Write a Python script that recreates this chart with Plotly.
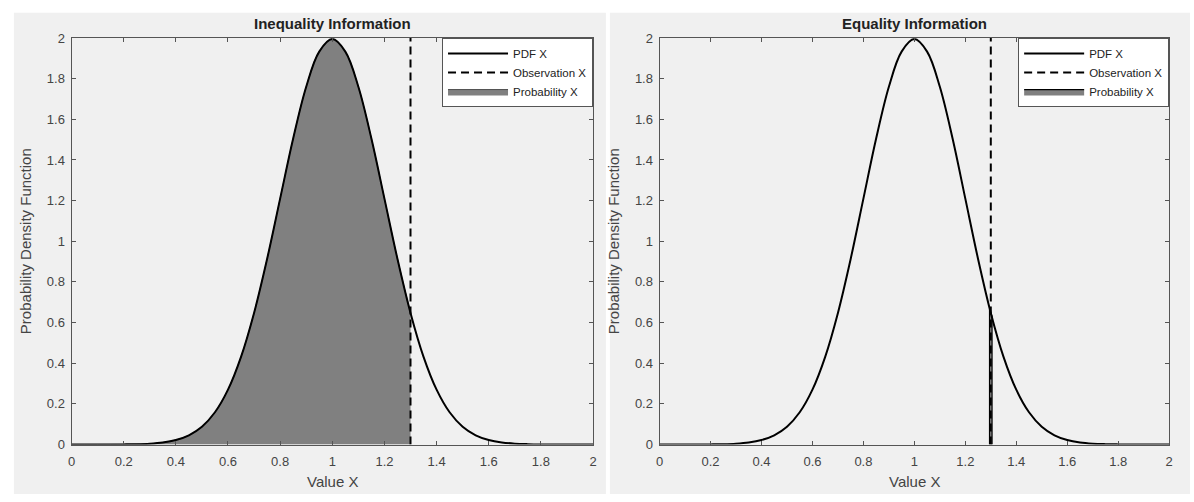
import plotly.graph_objects as go
from plotly.subplots import make_subplots

# ---- data ----
value_x = [0.00, 0.05, 0.10, 0.15, 0.20, 0.25, 0.30, 0.35, 0.40, 0.45,
           0.50, 0.55, 0.60, 0.65, 0.70, 0.75, 0.80, 0.85, 0.90, 0.95,
           1.00, 1.05, 1.10, 1.15, 1.20, 1.25, 1.30, 1.35, 1.40, 1.45,
           1.50, 1.55, 1.60, 1.65, 1.70, 1.75, 1.80, 1.85, 1.90, 1.95, 2.00]
pdf_x = [0.0000, 0.0000, 0.0001, 0.0002, 0.0007, 0.0018, 0.0044, 0.0102, 0.0222, 0.0455,
         0.0876, 0.1587, 0.2700, 0.4315, 0.6476, 0.9132, 1.2099, 1.5057, 1.7603, 1.9333,
         1.9947, 1.9333, 1.7603, 1.5057, 1.2099, 0.9132, 0.6476, 0.4315, 0.2700, 0.1587,
         0.0876, 0.0455, 0.0222, 0.0102, 0.0044, 0.0018, 0.0007, 0.0002, 0.0001, 0.0000, 0.0000]
observation_x = 1.3
obs_line_y = [0, 2]
eq_slice_x = [1.295, 1.295, 1.305, 1.305]
eq_slice_y = [0, 0.665, 0.632, 0]
titles = ["Inequality Information", "Equality Information"]
tick_vals_x = [0, 0.2, 0.4, 0.6, 0.8, 1, 1.2, 1.4, 1.6, 1.8, 2]
tick_vals_y = [0, 0.2, 0.4, 0.6, 0.8, 1, 1.2, 1.4, 1.6, 1.8, 2]

W, H = 1194, 502
FONT = "Liberation Sans, Arial, sans-serif"
GRAY = "#808080"
DASH = "8px,5px"

fig = make_subplots(rows=1, cols=2)

ineq_x = [x for x in value_x if x <= observation_x]
ineq_y = pdf_x[:len(ineq_x)]

# Left panel
fig.add_trace(go.Scatter(x=ineq_x, y=ineq_y, fill="tozeroy", fillcolor=GRAY,
                         mode="lines", line=dict(color="#333333", width=0.8, shape="spline"),
                         name="Probability X", legend="legend", legendrank=3), row=1, col=1)
fig.add_trace(go.Scatter(x=value_x, y=pdf_x, mode="lines",
                         line=dict(color="black", width=2, shape="spline"),
                         name="PDF X", legend="legend", legendrank=1), row=1, col=1)
fig.add_trace(go.Scatter(x=[observation_x, observation_x], y=obs_line_y, mode="lines",
                         line=dict(color="black", width=2, dash=DASH),
                         name="Observation X", legend="legend", legendrank=2), row=1, col=1)

# Right panel
fig.add_trace(go.Scatter(x=eq_slice_x, y=eq_slice_y, fill="toself", fillcolor=GRAY,
                         mode="lines", line=dict(color="black", width=1.2),
                         name="Probability X", legend="legend2", legendrank=3), row=1, col=2)
fig.add_trace(go.Scatter(x=value_x, y=pdf_x, mode="lines",
                         line=dict(color="black", width=2, shape="spline"),
                         name="PDF X", legend="legend2", legendrank=1), row=1, col=2)
fig.add_trace(go.Scatter(x=[observation_x, observation_x], y=obs_line_y, mode="lines",
                         line=dict(color="black", width=2, dash=DASH),
                         name="Observation X", legend="legend2", legendrank=2), row=1, col=2)

yb = 1 - 451 / H
yt = 1 - 32 / H
lx = [68 / W, 593 / W]
rx = [660 / W, 1173 / W]

axis_common = dict(showgrid=False, zeroline=False, showline=True, linecolor="#555555",
                   linewidth=1, mirror="allticks", ticks="inside", ticklen=4,
                   tickcolor="#555555", tickfont=dict(family=FONT, size=13, color="#444444"))

fig.update_xaxes(range=[0, 2], tickvals=tick_vals_x, ticktext=[f"{v:g}" for v in tick_vals_x],
                 ticklabelstandoff=5, **axis_common)
fig.update_yaxes(range=[0, 2], tickvals=tick_vals_y, ticktext=[f"{v:g}" for v in tick_vals_y],
                 ticklabelstandoff=3, **axis_common)
fig.update_layout(
    xaxis=dict(domain=lx), xaxis2=dict(domain=rx),
    yaxis=dict(domain=[yb, yt]), yaxis2=dict(domain=[yb, yt]),
)

legend_common = dict(bgcolor="white", bordercolor="#555555", borderwidth=1,
                     font=dict(family=FONT, size=11.5, color="#222222"),
                     xanchor="right", yanchor="top", itemwidth=60, tracegroupgap=0,
                     traceorder="normal")
fig.update_layout(
    width=W, height=H, margin=dict(l=0, r=0, t=0, b=0),
    paper_bgcolor="white", plot_bgcolor="white",
    legend=dict(x=593 / W, y=yt, **legend_common),
    legend2=dict(x=1173 / W, y=yt, **legend_common),
    shapes=[
        dict(type="rect", xref="paper", yref="paper", x0=10 / W, x1=606 / W, y0=0, y1=1 - 6 / H,
             fillcolor="#f0f0f0", line=dict(width=0), layer="below"),
        dict(type="rect", xref="paper", yref="paper", x0=610 / W, x1=1, y0=0, y1=1 - 6 / H,
             fillcolor="#f0f0f0", line=dict(width=0), layer="below"),
    ],
)

annotations = []
for i, (dom, title) in enumerate(zip([lx, rx], titles)):
    cx = (dom[0] + dom[1]) / 2
    annotations.append(dict(text=f"<b>{title}</b>", x=cx, y=1 - 17 / H, xref="paper", yref="paper",
                            showarrow=False, font=dict(family=FONT, size=15, color="#222222"),
                            xanchor="center", yanchor="middle"))
    annotations.append(dict(text="Value X", x=cx, y=1 - 489 / H, xref="paper", yref="paper",
                            showarrow=False, font=dict(family=FONT, size=15, color="#444444"),
                            xanchor="center", yanchor="middle"))
    annotations.append(dict(text="Probability Density Function", x=(dom[0] * W - 47) / W,
                            y=(yb + yt) / 2, xref="paper", yref="paper", textangle=-90,
                            showarrow=False, font=dict(family=FONT, size=15, color="#444444"),
                            xanchor="center", yanchor="middle"))
fig.update_layout(annotations=annotations)

fig.write_html("out.html")
